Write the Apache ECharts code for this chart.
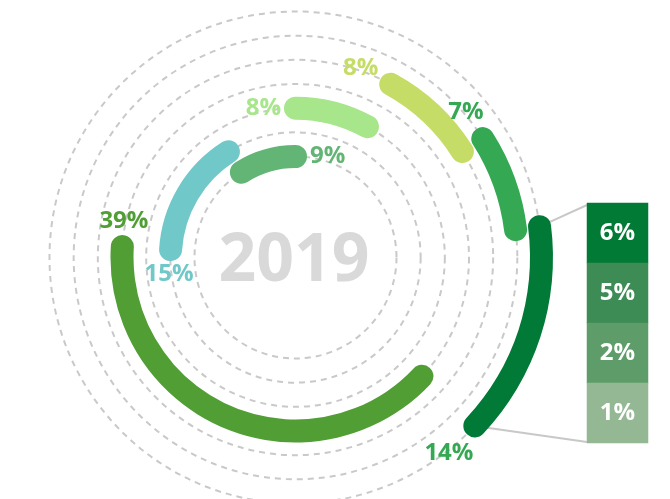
<!DOCTYPE html>
<html>
<head>
<meta charset="utf-8">
<script src="https://cdn.jsdelivr.net/npm/echarts@6/dist/echarts.min.js"></script>
<style>
  html, body { margin: 0; padding: 0; background: #ffffff; }
  #chart { width: 670px; height: 499px; }
</style>
</head>
<body>
<div id="chart"></div>
<script>
// Shares per ring, innermost ring first (percent of the whole year).
const ringNames = ['ring0', 'ring1', 'ring2', 'ring3', 'ring4', 'ring5', 'ring6'];
const shares = [9, 15, 8, 39, 8, 7, 14];
// Order in which the rings are swept clockwise from 12 o'clock.
const sweepOrder = [2, 4, 5, 6, 3, 1, 0];
// Which end of each arc carries its percentage label.
const labelSide = ['end', 'start', 'start', 'end', 'start', 'start', 'end'];
// Breakdown of the outermost 14% share.
const breakdown = [6, 5, 2, 1];
const yearLabel = '2019';

const ringColors = ['#62b574', '#70c9c8', '#a8e68c', '#509e34', '#c5dc66', '#34a853', '#007a36'];
const labelColors = ['#62b574', '#70c9c8', '#a8e68c', '#509e34', '#c5dc66', '#34a853', '#35a853'];
const breakdownColors = ['#007a35', '#3d8b55', '#5e9c69', '#94b893'];

const FONT = '"Open Sans", "Noto Sans", sans-serif';
const BAR_WIDTH = 23;
const GRID = { left: 587, top: 203, width: 61, height: 240 };

// Start of each arc along the angle axis: sum of the arcs swept before it.
const offsets = new Array(shares.length).fill(0);
let acc = 0;
sweepOrder.forEach(function (i) { offsets[i] = acc; acc += shares[i]; });

const chart = echarts.init(document.getElementById('chart'), null, { renderer: 'canvas' });

chart.setOption({
  animation: false,
  backgroundColor: '#ffffff',
  polar: { center: [295.5, 257.5], radius: [101, 246] },
  angleAxis: {
    type: 'value', min: 0, max: 100, startAngle: 90, clockwise: true,
    axisLine: { show: false }, axisTick: { show: false },
    axisLabel: { show: false }, splitLine: { show: false }
  },
  radiusAxis: {
    type: 'category', data: ringNames, boundaryGap: false,
    axisLine: { show: false },
    axisTick: { show: false, interval: 0 },
    axisLabel: { show: false, interval: 0 },
    splitLine: { show: true, interval: 0, lineStyle: { color: '#c9c9c9', width: 2, type: [6, 5] } }
  },
  grid: { left: GRID.left, top: GRID.top, width: GRID.width, height: GRID.height },
  xAxis: { type: 'category', data: ['share'], show: false },
  yAxis: { type: 'category', data: breakdown.map(String), inverse: true, show: false },
  visualMap: {
    show: false, type: 'piecewise', seriesIndex: 2, dimension: 2,
    pieces: breakdown.map(function (v, i) { return { value: v, color: breakdownColors[i] }; })
  },
  series: [
    {
      type: 'bar', coordinateSystem: 'polar', stack: 'sweep', silent: true, clip: false,
      barWidth: BAR_WIDTH, data: offsets, itemStyle: { color: 'rgba(0,0,0,0)' }
    },
    {
      type: 'bar', coordinateSystem: 'polar', stack: 'sweep', roundCap: true, clip: false,
      barWidth: BAR_WIDTH,
      data: shares.map(function (v, i) { return { value: v, itemStyle: { color: ringColors[i] } }; })
    },
    {
      type: 'heatmap', xAxisIndex: 0, yAxisIndex: 0,
      data: breakdown.map(function (v, i) { return [0, i, v]; }),
      label: {
        show: true, color: '#ffffff', fontSize: 24, fontWeight: 'bold', fontFamily: FONT,
        formatter: function (p) { return p.value[2] + '%'; }
      },
      itemStyle: { borderWidth: 0 }
    }
  ]
});

// Labels, connectors and the year are placed from the polar scale.
function polarPoint(ring, value) {
  return chart.convertToPixel({ polarIndex: 0 }, [ring, value]);
}
const measure = document.createElement('canvas').getContext('2d');
measure.font = 'bold 24px ' + FONT;

const graphics = [];
shares.forEach(function (v, i) {
  const text = v + '%';
  const w = measure.measureText(text).width;
  const h = 18;
  const isEnd = labelSide[i] === 'end';
  const a = isEnd ? offsets[i] + v : offsets[i];
  const p = polarPoint(i, a);
  const p1 = polarPoint(i, a + 0.05);
  const p0 = polarPoint(i, a - 0.05);
  let tx = p1[0] - p0[0], ty = p1[1] - p0[1];
  const n = Math.hypot(tx, ty); tx /= n; ty /= n;
  const s = isEnd ? 1 : -1;
  const d = BAR_WIDTH / 2 + Math.abs(tx) * w / 2 + Math.abs(ty) * h / 2 + 3;
  graphics.push({
    type: 'text', z: 10, silent: true,
    x: p[0] + s * tx * d, y: p[1] + s * ty * d,
    style: {
      text: text, fill: labelColors[i], fontSize: 24, fontWeight: 'bold', fontFamily: FONT,
      textAlign: 'center', textVerticalAlign: 'middle', align: 'center', verticalAlign: 'middle'
    }
  });
});

// Connectors from the ends of the outer arc to the breakdown column.
const outer = shares.length - 1;
const outerStart = polarPoint(outer, offsets[outer]);
const outerEnd = polarPoint(outer, offsets[outer] + shares[outer]);
[[outerStart, [GRID.left, GRID.top + 2]], [outerEnd, [GRID.left, GRID.top + GRID.height - 1]]]
  .forEach(function (seg) {
    graphics.push({
      type: 'line', z: 1, silent: true,
      shape: { x1: seg[0][0], y1: seg[0][1], x2: seg[1][0], y2: seg[1][1] },
      style: { stroke: '#c8c8c8', lineWidth: 2 }
    });
  });

graphics.push({
  type: 'text', z: 10, silent: true, x: 294, y: 262,
  style: {
    text: yearLabel, fill: '#d9d9d9', fontSize: 66, fontWeight: 'bold', fontFamily: FONT,
    textAlign: 'center', textVerticalAlign: 'middle', align: 'center', verticalAlign: 'middle'
  }
});

chart.setOption({ graphic: graphics });
</script>
</body>
</html>
